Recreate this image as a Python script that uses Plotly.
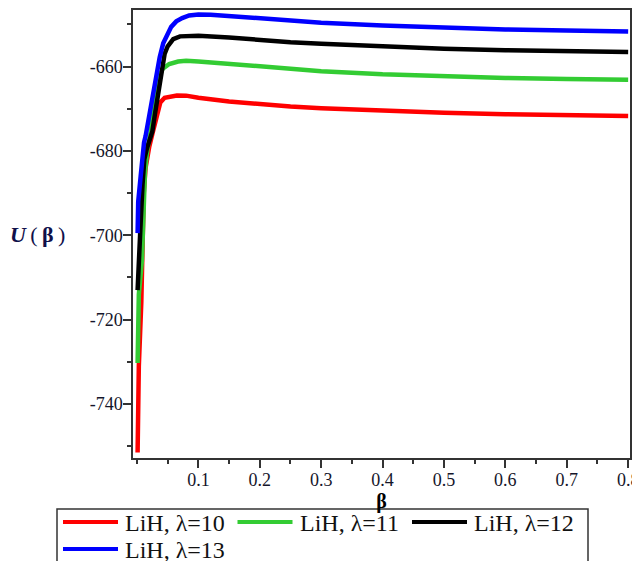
import plotly.graph_objects as go

# ---- data ----
beta_10 = [0.001, 0.003, 0.007, 0.009, 0.011, 0.014, 0.017, 0.02, 0.025, 0.03, 0.034, 0.038,
           0.045, 0.055, 0.065, 0.08, 0.1, 0.15, 0.2, 0.25, 0.3, 0.4, 0.5, 0.6, 0.7, 0.8]
u_10 = [-751.5, -731, -716, -703, -690, -684, -681, -679, -676, -673, -670.3, -668.5,
        -667.4, -667.0, -666.85, -666.9, -667.4, -668.3, -669.0, -669.5, -669.9, -670.5,
        -670.95, -671.3, -671.55, -671.75]

beta_11 = [0.001, 0.003, 0.008, 0.011, 0.013, 0.017, 0.0225, 0.0275, 0.035, 0.042, 0.0525,
           0.067, 0.08, 0.1, 0.15, 0.2, 0.25, 0.3, 0.4, 0.5, 0.6, 0.7, 0.8]
u_11 = [-730.3, -714, -706, -695, -685, -679.5, -675.4, -669.1, -662.7, -660.5, -659.4,
        -658.8, -658.65, -658.8, -659.4, -660.1, -660.6, -661.1, -661.85, -662.35, -662.7,
        -662.95, -663.15]

beta_12 = [0.001, 0.003, 0.006, 0.009, 0.012, 0.016, 0.02, 0.025, 0.029, 0.033, 0.037, 0.041,
           0.045, 0.05, 0.059, 0.07, 0.085, 0.1, 0.15, 0.2, 0.25, 0.3, 0.4, 0.5, 0.6, 0.7, 0.8]
u_12 = [-713, -703, -697, -688, -682, -679.5, -677.8, -675.4, -671.5, -667.7, -663, -659.2,
        -657, -655.2, -653.5, -652.85, -652.65, -652.7, -653.1, -653.75, -654.25, -654.6,
        -655.3, -655.8, -656.15, -656.4, -656.55]

beta_13 = [0.001, 0.002, 0.006, 0.009, 0.0115, 0.014, 0.018, 0.023, 0.027, 0.0313, 0.037,
           0.0427, 0.049, 0.0557, 0.064, 0.0736, 0.085, 0.1, 0.12, 0.15, 0.2, 0.25, 0.3, 0.4,
           0.5, 0.6, 0.7, 0.8]
u_13 = [-699.5, -692, -686, -681, -678, -676.5, -673, -669.3, -665.3, -661.5, -657.8,
        -654.5, -652.3, -650.6, -649.3, -648.5, -647.9, -647.65, -647.7, -648.0, -648.65,
        -649.2, -649.6, -650.3, -650.8, -651.2, -651.45, -651.7]

series_names = ["LiH, λ=10", "LiH, λ=11", "LiH, λ=12", "LiH, λ=13"]
series_colors = ["#ff0000", "#33cc33", "#000000", "#0000ff"]

x_tick_vals = [0.1, 0.2, 0.3, 0.4, 0.5, 0.6, 0.7, 0.8]
x_tick_text = ["0.1", "0.2", "0.3", "0.4", "0.5", "0.6", "0.7", "0.8"]
y_tick_vals = [-740, -720, -700, -680, -660]
y_tick_text = ["-740", "-720", "-700", "-680", "-660"]

# ---- geometry (page has an 8px body margin) ----
W, H = 640, 561
ML, MR, MT, MB = 125, 18, 2, 111
PW, PH = W - ML - MR, H - MT - MB
PAGE_OFF = 8


def sx(px):  # screen px -> paper x
    return (px - PAGE_OFF - ML) / PW


def sy(py):  # screen px -> paper y
    return (MT + PH - (py - PAGE_OFF)) / PH


# ---- figure ----
fig = go.Figure()
for xs, ys, name, col in zip([beta_10, beta_11, beta_12, beta_13],
                             [u_10, u_11, u_12, u_13],
                             series_names, series_colors):
    fig.add_trace(go.Scatter(x=xs, y=ys, mode="lines", name=name,
                             line=dict(color=col, width=4.5)))

axis_col = "#333333"
tick_font = dict(family="Liberation Serif", size=18, color="#15152a")

fig.update_xaxes(
    range=[-0.0065, 0.803], tickmode="array", tickvals=x_tick_vals, ticktext=x_tick_text,
    ticks="outside", ticklen=8, tickwidth=1.5, tickcolor=axis_col,
    minor=dict(ticks="outside", ticklen=4, tickwidth=1.5, tickcolor=axis_col, dtick=0.05, tick0=0),
    showline=True, linecolor=axis_col, linewidth=1.5, mirror=True,
    showgrid=False, zeroline=False, tickfont=tick_font,
    ticklabelstandoff=-3, ticklabeloverflow="allow",
    title=dict(text="<b>β</b>", font=dict(family="Liberation Serif", size=20, color="#000"),
               standoff=0),
)
fig.update_yaxes(
    range=[-752.8, -646.6], tickmode="array", tickvals=y_tick_vals, ticktext=y_tick_text,
    ticks="outside", ticklen=8, tickwidth=1.5, tickcolor=axis_col,
    minor=dict(ticks="outside", ticklen=4, tickwidth=1.5, tickcolor=axis_col, dtick=10, tick0=0),
    showline=True, linecolor=axis_col, linewidth=1.5, mirror=True,
    showgrid=False, zeroline=False, tickfont=tick_font, ticklabelstandoff=-3,
    ticklabeloverflow="allow",
)

# horizontal y-axis title
fig.add_annotation(
    text="<b><i>U</i></b>\u2009(\u2009<b>β</b>\u2009)", xref="paper", yref="paper",
    x=sx(37), y=sy(234), xanchor="center", yanchor="middle", showarrow=False,
    font=dict(family="Liberation Serif", size=22, color="#10104a"),
)

# legend box below the plot (as in the reference, cut by the bottom edge)
fig.add_shape(type="rect", xref="paper", yref="paper",
              x0=sx(57), x1=sx(588), y0=sy(509), y1=sy(590),
              line=dict(color=axis_col, width=1.5), fillcolor="white", layer="above")
for i, (name, col) in enumerate(zip(series_names, series_colors)):
    row, c = divmod(i, 3)
    lx = 63 + c * 174.5
    ly = 522 + row * 27
    fig.add_shape(type="line", xref="paper", yref="paper",
                  x0=sx(lx), x1=sx(lx + 55), y0=sy(ly), y1=sy(ly),
                  line=dict(color=col, width=4), layer="above")
    fig.add_annotation(text=name, xref="paper", yref="paper",
                       x=sx(lx + 60), y=sy(ly + 1), xanchor="left", yanchor="middle",
                       height=26, showarrow=False,
                       font=dict(family="Liberation Serif", size=24, color="#111"))

fig.update_layout(
    width=W, height=H,
    margin=dict(l=ML, r=MR, t=MT, b=MB, autoexpand=False),
    plot_bgcolor="white", paper_bgcolor="white",
    font=dict(family="Liberation Serif", size=18, color="#000"),
    showlegend=False,
)

fig.write_html("out.html")
